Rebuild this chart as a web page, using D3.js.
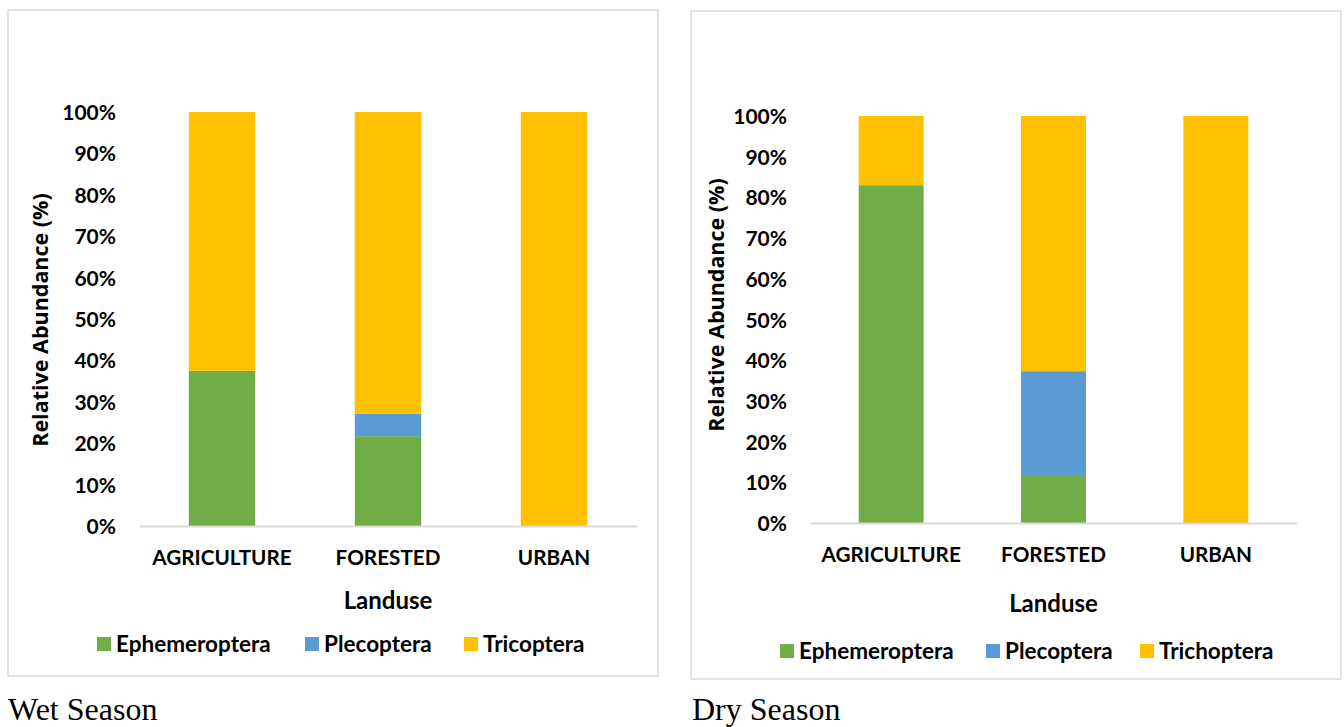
<!DOCTYPE html>
<html><head><meta charset="utf-8">
<script src="https://cdn.jsdelivr.net/npm/d3@7"></script>
<style>body{margin:0;background:#fff}svg{display:block}</style>
</head><body>
<svg id="c" width="1344" height="727"></svg>
<script>
const categories = ["AGRICULTURE", "FORESTED", "URBAN"];
const wetSeries = ["Ephemeroptera", "Plecoptera", "Tricoptera"];
const drySeries = ["Ephemeroptera", "Plecoptera", "Trichoptera"];
const wetEphemeroptera = [37.5, 21.7, 0];
const wetPlecoptera = [0, 5.4, 0];
const wetTricoptera = [62.5, 72.9, 100];
const dryEphemeroptera = [83.0, 11.8, 0];
const dryPlecoptera = [0, 25.5, 0];
const dryTrichoptera = [17.0, 62.7, 100];
const yTicks = [0, 10, 20, 30, 40, 50, 60, 70, 80, 90, 100];
const captions = ["Wet Season", "Dry Season"];
const colors = ["#70AD47", "#5B9BD5", "#FFC000"];

const svg = d3.select("#c");
const LBL = "Lato, 'Open Sans', sans-serif";

function panel(cfg, seriesNames, values, caption) {
  const g = svg.append("g");
  g.append("rect").attr("x", cfg.box[0]).attr("y", cfg.box[1])
    .attr("width", cfg.box[2] - cfg.box[0]).attr("height", cfg.box[3] - cfg.box[1])
    .attr("fill", "#fff").attr("stroke", "#d9d9d9").attr("stroke-width", 1.5);

  const x = d3.scaleBand().domain(categories).range([cfg.x0, cfg.x1])
    .paddingInner(0.6).paddingOuter(0.3);
  const y = d3.scaleLinear().domain([0, 100]).range([cfg.y0, cfg.y1]);

  const rows = categories.map((c, i) => {
    const r = {cat: c};
    seriesNames.forEach((s, k) => r[s] = values[k][i]);
    return r;
  });
  const stack = d3.stack().keys(seriesNames)(rows);
  stack.forEach((layer, k) => {
    g.append("g").selectAll("rect").data(layer).join("rect")
      .attr("x", d => x(d.data.cat))
      .attr("width", x.bandwidth())
      .attr("y", d => y(d[1]))
      .attr("height", d => y(d[0]) - y(d[1]))
      .attr("fill", colors[k]);
  });

  const ya = g.append("g").attr("transform", `translate(${cfg.x0 - 23},0)`)
    .call(d3.axisLeft(y).tickValues(yTicks).tickSize(0).tickPadding(0).tickFormat(d => d + "%"));
  ya.select(".domain").remove();
  ya.selectAll("text").attr("font-family", LBL).attr("font-weight", 700)
    .attr("font-size", 21).attr("fill", "#000").attr("dy", "0.36em");

  const xa = g.append("g").attr("transform", `translate(0,${cfg.y0})`)
    .call(d3.axisBottom(x).tickSize(0).tickPadding(32));
  xa.select(".domain").attr("stroke", "#d9d9d9").attr("stroke-width", 2);
  xa.selectAll("text").attr("font-family", LBL).attr("font-weight", 700)
    .attr("font-size", 20.7).attr("fill", "#000").attr("dy", "0.36em");

  g.append("text").attr("x", (cfg.x0 + cfg.x1) / 2).attr("y", cfg.titleY)
    .attr("text-anchor", "middle").attr("font-family", LBL).attr("font-weight", 700)
    .attr("font-size", 24).attr("dy", "0.36em").text("Landuse");

  g.append("text").attr("transform", `translate(${cfg.ytX},${cfg.ytY}) rotate(-90)`)
    .attr("text-anchor", "middle").attr("font-family", "'Open Sans', sans-serif").attr("font-weight", 700)
    .attr("font-size", 21.5).attr("dy", "0.36em").text("Relative Abundance (%)");

  seriesNames.forEach((s, k) => {
    g.append("rect").attr("x", cfg.legX[k]).attr("y", cfg.legY - 7)
      .attr("width", 14).attr("height", 14).attr("fill", colors[k]);
    g.append("text").attr("x", cfg.legX[k] + 19).attr("y", cfg.legY)
      .attr("font-family", LBL).attr("font-weight", 700).attr("font-size", 22.5)
      .attr("dy", "0.36em").text(s);
  });

  svg.append("text").attr("x", cfg.capX).attr("y", 720)
    .attr("font-family", "'Liberation Serif', 'Times New Roman', serif")
    .attr("font-size", 32).attr("fill", "#000").text(caption);
}

panel({box: [8, 10, 658, 676], x0: 139, x1: 637, y0: 526, y1: 112, titleY: 600,
       ytX: 40, ytY: 320, legX: [97, 305, 464], legY: 644, capX: 8},
      wetSeries, [wetEphemeroptera, wetPlecoptera, wetTricoptera], captions[0]);
panel({box: [691, 11, 1341, 679], x0: 810, x1: 1297, y0: 523, y1: 116, titleY: 603,
       ytX: 716, ytY: 305, legX: [780, 986, 1140], legY: 651, capX: 692},
      drySeries, [dryEphemeroptera, dryPlecoptera, dryTrichoptera], captions[1]);
</script>
</body></html>
